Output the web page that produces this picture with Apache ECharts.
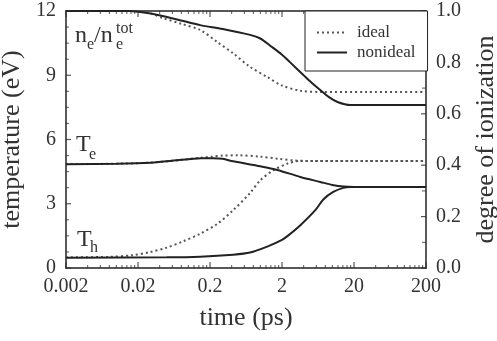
<!DOCTYPE html>
<html>
<head>
<meta charset="utf-8">
<script src="https://cdn.jsdelivr.net/npm/echarts@6/dist/echarts.min.js"></script>
<style>
  html, body { margin: 0; background: #fff; }
  #chart { width: 497px; height: 341px; }
</style>
</head>
<body>
<div id="chart"></div>
<script>
// x tick labels (time, ps) - one per decade
const tickLabels = ['0.002', '0.02', '0.2', '2', '20', '200'];

// degree of ionization (right axis)
const tIonIdeal   = [0.002, 0.02, 0.03, 0.045, 0.08, 0.146, 0.25, 0.42, 0.7, 1.25, 2.0, 3.6, 7, 30, 200];
const ionIdeal    = [1.0, 1.0, 0.99, 0.972, 0.95, 0.926, 0.88, 0.835, 0.785, 0.743, 0.71, 0.69, 0.685, 0.685, 0.685];
const tIonNon     = [0.002, 0.015, 0.03, 0.07, 0.146, 0.3, 0.72, 1.0, 1.37, 2.0, 2.6, 3.96, 5.2, 6.8, 9, 11.8, 17.8, 40, 200];
const ionNon      = [1.0, 1.0, 0.99, 0.967, 0.945, 0.93, 0.907, 0.893, 0.865, 0.83, 0.80, 0.751, 0.72, 0.693, 0.665, 0.646, 0.634, 0.634, 0.634];

// electron temperature Te (eV, left axis)
const tTeIdeal    = [0.002, 0.01, 0.03, 0.08, 0.15, 0.22, 0.3, 0.5, 1.0, 1.8, 3.0, 5, 30, 200];
const teIdeal     = [4.85, 4.87, 4.92, 5.05, 5.15, 5.2, 5.25, 5.26, 5.2, 5.1, 5.02, 5.0, 5.0, 5.0];
const tTeNon      = [0.002, 0.01, 0.03, 0.08, 0.15, 0.22, 0.3, 0.42, 1.0, 1.72, 3.6, 6.8, 10, 14.3, 20, 40, 200];
const teNon       = [4.85, 4.87, 4.92, 5.05, 5.12, 5.13, 5.1, 4.98, 4.75, 4.58, 4.25, 4.02, 3.88, 3.8, 3.78, 3.78, 3.78];

// heavy-particle temperature Th (eV, left axis)
const tThIdeal    = [0.002, 0.008, 0.017, 0.03, 0.05, 0.085, 0.146, 0.25, 0.42, 0.72, 1.0, 1.5, 2.4, 3.6, 20, 200];
const thIdeal     = [0.5, 0.52, 0.6, 0.75, 0.95, 1.25, 1.6, 2.05, 2.7, 3.5, 4.1, 4.55, 4.88, 5.0, 5.0, 5.0];
const tThNon      = [0.002, 0.05, 0.146, 0.42, 0.72, 1.25, 2.0, 2.4, 3.6, 5.8, 7.5, 10.3, 14.2, 18, 40, 200];
const thNon       = [0.48, 0.5, 0.53, 0.62, 0.72, 1.0, 1.31, 1.5, 2.0, 2.7, 3.2, 3.55, 3.74, 3.78, 3.78, 3.78];

const pairs = (ts, vs) => ts.map((t, i) => [t, vs[i]]);

// tick values: x in decades from 0.002, left axis in eV, right axis in fraction
const majorX = [0, 1, 2, 3, 4, 5];
const minorX = [];
for (let d = 0; d < 5; d++)
    for (let k = 2; k <= 9; k++) minorX.push(d + Math.log10(k));
const majorL = [0, 3, 6, 9, 12];
const minorL = [0.75, 1.5, 2.25, 3.75, 4.5, 5.25, 6.75, 7.5, 8.25, 9.75, 10.5, 11.25];
const majorR = [0, 0.2, 0.4, 0.6, 0.8, 1.0];
const minorR = [0.1, 0.3, 0.5, 0.7, 0.9];

const FONT = '"Liberation Serif", "Times New Roman", serif';
const INK = '#222';
const TXT = '#333';
const TICK = '#2a2a2a';

const dotted = { color: '#555', width: 2, type: [2, 3] };
const solid = { color: INK, width: 2 };

const tickAxis = (pos, major) => ({
    type: 'value', min: 0, max: 5, interval: 1, position: pos,
    axisLine: { show: major, onZero: false, lineStyle: { color: INK, width: 1.5 } },
    axisTick: { show: false },
    axisLabel: (major && pos === 'bottom')
        ? { show: true, margin: 9, fontFamily: FONT, fontSize: 20, color: TXT,
            formatter: v => tickLabels[Math.round(v)] }
        : { show: false },
    splitLine: { show: false }
});

const line = (name, style, yIdx, data, z) => ({
    name: name, type: 'line', xAxisIndex: 0, yAxisIndex: yIdx,
    data: data, symbol: 'none', smooth: 0.3,
    lineStyle: style, itemStyle: { color: style.color }, z: z
});

// tick marks drawn as tiny rect symbols sitting on the frame (pointing inward)
const marks = (data, yIdx, size, offset) => ({
    name: 'ticks', type: 'scatter', xAxisIndex: 1, yAxisIndex: yIdx,
    data: data, symbol: 'rect', symbolSize: size, symbolOffset: offset,
    itemStyle: { color: TICK }, clip: false, silent: true, z: 4
});

// in-plot curve labels
const note = (text, x, y, size) => ({
    type: 'text', z: 50,
    style: { text: text, x: x, y: y, font: size + 'px ' + FONT, fill: TXT, verticalAlign: 'middle' }
});

const chart = echarts.init(document.getElementById('chart'));
chart.setOption({
    animation: false,
    grid: { left: 66, right: 71, top: 11, bottom: 73, outerBoundsMode: 'none' },
    legend: {
        data: ['ideal', 'nonideal'],
        orient: 'vertical', left: 305, top: 11, z: 20,
        padding: [13, 12, 10, 11],
        itemWidth: 30, itemHeight: 10, itemGap: 3,
        borderColor: INK, borderWidth: 1, backgroundColor: '#fff',
        itemStyle: { opacity: 0 },
        textStyle: { fontFamily: FONT, fontSize: 17, color: TXT, padding: [0, 0, 0, 5] }
    },
    xAxis: [
        { type: 'log', logBase: 10, min: 0.002, max: 200,
          axisLine: { show: false, onZero: false }, axisTick: { show: false },
          axisLabel: { show: false }, splitLine: { show: false },
          name: 'time (ps)', nameLocation: 'middle', nameGap: 37,
          nameTextStyle: { fontFamily: FONT, fontSize: 26, color: TXT } },
        tickAxis('bottom', true),
        tickAxis('top', true)
    ],
    yAxis: [
        { type: 'value', min: 0, max: 12, interval: 3, position: 'left',
          name: 'temperature (eV)', nameLocation: 'middle', nameGap: 26, nameRotate: 90,
          nameTextStyle: { fontFamily: FONT, fontSize: 26, color: TXT },
          axisLine: { show: true, onZero: false, lineStyle: { color: INK, width: 1.5 } },
          axisTick: { show: false },
          axisLabel: { margin: 10, fontFamily: FONT, fontSize: 20, color: TXT },
          splitLine: { show: false } },
        { type: 'value', min: 0, max: 1, interval: 0.2, position: 'right',
          name: 'degree of ionization', nameLocation: 'middle', nameGap: 47, nameRotate: 90,
          nameTextStyle: { fontFamily: FONT, fontSize: 26, color: TXT },
          axisLine: { show: true, onZero: false, lineStyle: { color: INK, width: 1.5 } },
          axisTick: { show: false },
          axisLabel: { margin: 10, fontFamily: FONT, fontSize: 20, color: TXT,
                       formatter: v => v.toFixed(1) },
          splitLine: { show: false } }
    ],
    graphic: [
        note('n', 75, 36, 24), note('e', 87, 45, 16), note('/n', 94, 36, 24),
        note('e', 116, 45, 16), note('tot', 116, 29, 16),
        note('T', 76, 145, 24), note('e', 89, 155, 16),
        note('T', 77, 240, 24), note('h', 90, 248, 16)
    ],
    series: [
        line('ideal', dotted, 1, pairs(tIonIdeal, ionIdeal), 2),
        line('ideal', dotted, 0, pairs(tTeIdeal, teIdeal), 2),
        line('ideal', dotted, 0, pairs(tThIdeal, thIdeal), 2),
        line('nonideal', solid, 1, pairs(tIonNon, ionNon), 3),
        line('nonideal', solid, 0, pairs(tTeNon, teNon), 3),
        line('nonideal', solid, 0, pairs(tThNon, thNon), 3),
        // frame ticks
        marks(majorX.map(v => [v, 0]), 0, [1.2, 6], [0, -3]),
        marks(minorX.map(v => [v, 0]), 0, [1, 3], [0, -1.5]),
        marks(majorX.map(v => [v, 12]), 0, [1.2, 6], [0, 3]),
        marks(minorX.map(v => [v, 12]), 0, [1, 3], [0, 1.5]),
        marks(majorL.map(v => [0, v]), 0, [5, 1.2], [2.5, 0]),
        marks(minorL.map(v => [0, v]), 0, [3, 1], [1.5, 0]),
        marks(majorR.map(v => [5, v]), 1, [5, 1.2], [-2.5, 0]),
        marks(minorR.map(v => [5, v]), 1, [4, 1], [-2, 0])
    ]
});
</script>
</body>
</html>
